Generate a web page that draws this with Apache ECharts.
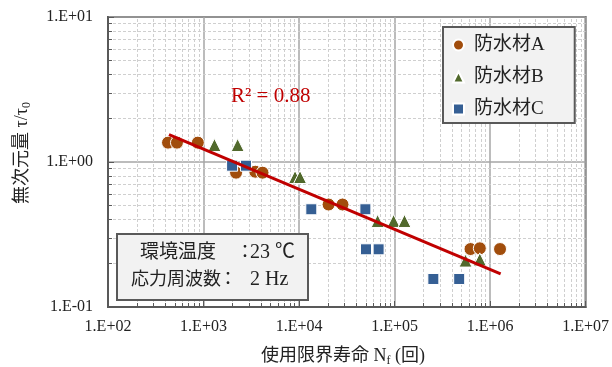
<!DOCTYPE html>
<html><head><meta charset="utf-8">
<script src="https://cdn.jsdelivr.net/npm/echarts@6/dist/echarts.min.js"></script>
<style>html,body{margin:0;padding:0;background:#fff}#c{width:612px;height:367px}</style>
</head><body><div id="c"></div>
<script>
// ---- data ----
const seriesNames = ['防水材A', '防水材B', '防水材C'];
const aX = [425, 527, 872, 2191, 3480, 4147, 20380, 28520, 623700, 781000, 1271000];
const aY = [1.36, 1.36, 1.36, 0.844, 0.857, 0.844, 0.509, 0.509, 0.251, 0.254, 0.251];
const bX = [1302, 2277, 9080, 10240, 66500, 97700, 127000, 553000, 781000];
const bY = [1.31, 1.31, 0.788, 0.788, 0.392, 0.392, 0.392, 0.209, 0.213];
const cX = [1991, 2785, 13440, 49500, 50250, 68100, 254700, 475000];
const cY = [0.943, 0.943, 0.472, 0.472, 0.250, 0.250, 0.156, 0.156];
const trendX = [435, 1290000];
const trendY = [1.543, 0.169];
const xTickLabels = ['1.E+02', '1.E+03', '1.E+04', '1.E+05', '1.E+06', '1.E+07'];
const yTickLabels = ['1.E-01', '1.E+00', '1.E+01'];
const rSquaredText = 'R² = 0.88';
const yTitle = '無次元量 τ/τ{sub|0}';
const xTitle = '使用限界寿命 N{sub|f} (回)';
const noteLine1 = ['環境温度', '：', '23 ℃'];
const noteLine2 = ['応力周波数', '：', '2 Hz'];

// ---- helpers ----
const SERIF = '"Liberation Serif", "Noto Sans CJK JP", serif';
const zip = (xs, ys) => xs.map((x, i) => [x, ys[i]]);
const xMin = 100, xMax = 1e7, yMin = 0.1, yMax = 10;
const minorX = [], minorY = [];
for (let d = 2; d < 7; d++) for (let m = 2; m <= 9; m++) minorX.push(m * Math.pow(10, d));
for (let d = -1; d < 1; d++) for (let m = 2; m <= 9; m++) minorY.push(+(m * Math.pow(10, d)).toPrecision(3));

const gridLines = [];
minorX.forEach(v => gridLines.push({ xAxis: v }));
minorY.forEach(v => gridLines.push({ yAxis: v }));
const tickSegs = [];
const tx = Math.pow(10, 4 / 96), ty = Math.pow(10, 4 / 145);
minorX.forEach(v => tickSegs.push([{ coord: [v, yMin] }, { coord: [v, yMin * ty] }]));
minorY.forEach(v => tickSegs.push([{ coord: [xMin, v] }, { coord: [xMin * tx, v] }]));

const chart = echarts.init(document.getElementById('c'), null, { renderer: 'canvas' });
const option = {
  animation: false,
  backgroundColor: '#ffffff',
  grid: { left: 108, top: 17, width: 480, height: 290, show: true, borderColor: '#595959', borderWidth: 2, backgroundColor: 'transparent' },
  xAxis: {
    type: 'log', logBase: 10, min: xMin, max: xMax, splitNumber: 5, z: 0,
    axisLine: { show: true, lineStyle: { color: '#595959', width: 2 } },
    axisTick: { show: true, inside: true, length: 6, lineStyle: { color: '#595959' } },
    axisLabel: { margin: 12, color: '#222', fontSize: 16, fontFamily: SERIF,
      formatter: v => xTickLabels[Math.round(Math.log10(v)) - 2] },
    splitLine: { show: true, lineStyle: { color: '#a6a6a6', width: 1.5 } }
  },
  yAxis: {
    type: 'log', logBase: 10, min: yMin, max: yMax, splitNumber: 2, z: 0,
    axisLine: { show: true, lineStyle: { color: '#595959', width: 2 } },
    axisTick: { show: true, inside: true, length: 6, lineStyle: { color: '#595959' } },
    axisLabel: { margin: 15, color: '#222', fontSize: 16, fontFamily: SERIF,
      formatter: v => yTickLabels[Math.round(Math.log10(v)) + 1] },
    splitLine: { show: true, lineStyle: { color: '#a6a6a6', width: 1.5 } }
  },
  legend: {
    data: seriesNames, orient: 'vertical', left: 443, top: 27, z: 20,
    backgroundColor: '#f2f2f2', borderColor: '#595959', borderWidth: 2,
    padding: [8, 30, 4, 9], itemWidth: 11, itemHeight: 11, itemGap: 12,
    selectedMode: false,
    textStyle: { fontSize: 19, lineHeight: 20, color: '#222', fontFamily: SERIF, padding: [0, 0, 0, 5] }
  },
  series: [
    { type: 'line', data: [], silent: true, z: 1,
      markLine: { silent: true, z: 1, symbol: ['none', 'none'], label: { show: false },
        lineStyle: { color: '#cfcfcf', width: 1, type: [3, 2] }, data: gridLines } },
    { type: 'line', data: [], silent: true, z: 1,
      markLine: { silent: true, z: 1, symbol: ['none', 'none'], label: { show: false },
        lineStyle: { color: '#595959', width: 1, type: 'solid' }, data: tickSegs } },
    { name: seriesNames[0], type: 'scatter', data: zip(aX, aY), symbol: 'circle', symbolSize: 13, z: 4,
      itemStyle: { color: '#a14d0c', borderColor: '#fff', borderWidth: 1, opacity: 1 } },
    { name: seriesNames[1], type: 'scatter', data: zip(bX, bY), symbol: 'triangle', symbolSize: 13, z: 4,
      itemStyle: { color: '#51692c', borderColor: '#fff', borderWidth: 1, opacity: 1 } },
    { name: seriesNames[2], type: 'scatter', data: zip(cX, cY), symbol: 'rect', symbolSize: 11, z: 4,
      itemStyle: { color: '#355f94', borderColor: '#fff', borderWidth: 1, opacity: 1 } },
    { name: 'trend', type: 'line', data: zip(trendX, trendY), symbol: 'none', z: 5, silent: true,
      lineStyle: { color: '#c00000', width: 3 } }
  ],
  graphic: [
    { type: 'text', x: 231, y: 96, z: 100,
      style: { text: rSquaredText, fontSize: 21, fontFamily: SERIF, fill: '#c00000', textAlign: 'left', textVerticalAlign: 'middle' } },
    { type: 'rect', z: 100, shape: { x: 117, y: 234, width: 191, height: 66 },
      style: { fill: '#f2f2f2', stroke: '#595959', lineWidth: 2 } },
    { type: 'text', z: 101, x: 140, y: 253, style: { text: noteLine1[0], fontSize: 19, fontFamily: SERIF, fill: '#222', textAlign: 'left', textVerticalAlign: 'middle' } },
    { type: 'text', z: 101, x: 245, y: 253, style: { text: noteLine1[1], fontSize: 18, fontFamily: SERIF, fill: '#222', textAlign: 'center', textVerticalAlign: 'middle' } },
    { type: 'text', z: 101, x: 250, y: 253, style: { text: noteLine1[2], fontSize: 20, fontFamily: SERIF, fill: '#222', textAlign: 'left', textVerticalAlign: 'middle' } },
    { type: 'text', z: 101, x: 131, y: 280, style: { text: noteLine2[0], fontSize: 18, fontFamily: SERIF, fill: '#222', textAlign: 'left', textVerticalAlign: 'middle' } },
    { type: 'text', z: 101, x: 228, y: 280, style: { text: noteLine2[1], fontSize: 18, fontFamily: SERIF, fill: '#222', textAlign: 'center', textVerticalAlign: 'middle' } },
    { type: 'text', z: 101, x: 250, y: 280, style: { text: noteLine2[2], fontSize: 20, fontFamily: SERIF, fill: '#222', textAlign: 'left', textVerticalAlign: 'middle' } },
    { type: 'text', z: 100, x: 22, y: 153, rotation: Math.PI / 2,
      style: { text: yTitle, fontSize: 18, fontFamily: SERIF, fill: '#222', textAlign: 'center', textVerticalAlign: 'middle',
        rich: { sub: { fontSize: 12, fontFamily: SERIF, verticalAlign: 'bottom', padding: [9, 0, 0, 0] } } } },
    { type: 'text', z: 100, x: 343, y: 356,
      style: { text: xTitle, fontSize: 18, fontFamily: SERIF, fill: '#222', textAlign: 'center', textVerticalAlign: 'middle',
        rich: { sub: { fontSize: 12, fontFamily: SERIF, verticalAlign: 'bottom', padding: [9, 0, 0, 0] } } } }
  ]
};
chart.setOption(option);
</script></body></html>
